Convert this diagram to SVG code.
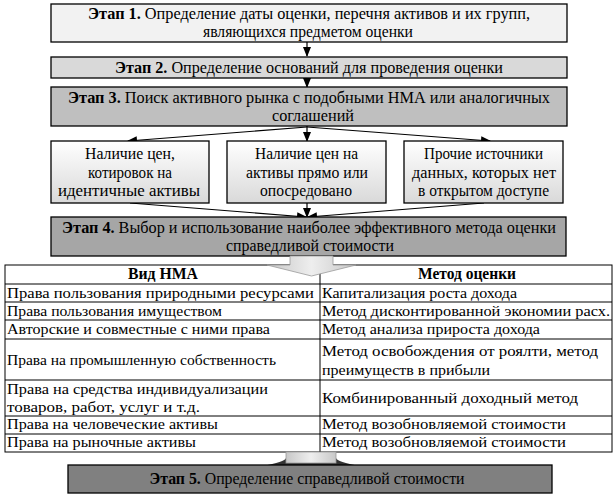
<svg xmlns="http://www.w3.org/2000/svg" width="615" height="497" viewBox="0 0 615 497" font-family="'Liberation Serif','DejaVu Serif','Noto Serif',serif">
<defs>
<linearGradient id="subg" x1="0" y1="0" x2="0" y2="1"><stop offset="0" stop-color="#ffffff"/><stop offset="1" stop-color="#d9d9d9"/></linearGradient>
<linearGradient id="arrg" x1="0" y1="0" x2="1" y2="0"><stop offset="0" stop-color="#c8c8c8"/><stop offset="0.5" stop-color="#eeeeee"/><stop offset="1" stop-color="#c8c8c8"/></linearGradient>
<marker id="ah" markerWidth="10" markerHeight="8" refX="9" refY="4" orient="auto" markerUnits="userSpaceOnUse"><path d="M0,0 L10,4 L0,8 Z" fill="#000"/></marker>
</defs>
<style>
text{font-family:'Liberation Serif','DejaVu Serif','Noto Serif',serif;font-size:16px;fill:#000}
.c{text-anchor:middle}
.b{font-weight:bold}
.box{stroke:#000;stroke-width:1.3}
.ln{stroke:#000;stroke-width:1.2;fill:none}
.tb{stroke:#000;stroke-width:1;fill:none}
.t{font-size:15.5px}
</style>

<g id="connectors">
<line class="ln" x1="307" y1="42" x2="307" y2="56" marker-end="url(#ah)"/>
<line class="ln" x1="307" y1="72" x2="307" y2="87" marker-end="url(#ah)"/>
<line class="ln" x1="307" y1="126" x2="307" y2="141" marker-end="url(#ah)"/>
<line class="ln" x1="307" y1="127" x2="128" y2="141" marker-end="url(#ah)"/>
<line class="ln" x1="307" y1="127" x2="490" y2="141" marker-end="url(#ah)"/>
<line class="ln" x1="307" y1="203" x2="307" y2="217" marker-end="url(#ah)"/>
<line class="ln" x1="130" y1="203" x2="306" y2="217" marker-end="url(#ah)"/>
<line class="ln" x1="484" y1="203" x2="308" y2="217" marker-end="url(#ah)"/>
</g>

<g id="stage1">
<rect class="box" x="51" y="4" width="516" height="38" fill="#f2f2f2"/>
<text class="c" x="309" y="19" textLength="442" lengthAdjust="spacingAndGlyphs"><tspan class="b">Этап 1.</tspan> Определение даты оценки, перечня активов и их групп,</text>
<text class="c" x="308" y="37" textLength="210" lengthAdjust="spacingAndGlyphs">являющихся предметом оценки</text>
</g>

<g id="stage2">
<rect class="box" x="51" y="57" width="516" height="21" fill="#d9d9d9"/>
<text class="c" x="309" y="73" textLength="388" lengthAdjust="spacingAndGlyphs"><tspan class="b">Этап 2.</tspan> Определение оснований для проведения оценки</text>
</g>

<g id="stage3">
<rect class="box" x="51" y="87" width="516" height="39" fill="#bfbfbf"/>
<text class="c" x="309" y="103" textLength="482" lengthAdjust="spacingAndGlyphs"><tspan class="b">Этап 3.</tspan> Поиск активного рынка с подобными НМА или аналогичных</text>
<text class="c" x="313" y="121" textLength="82" lengthAdjust="spacingAndGlyphs">соглашений</text>
</g>

<g id="src1">
<rect class="box" x="51" y="141" width="158" height="62" fill="url(#subg)"/>
<text class="c" x="130" y="159" textLength="90" lengthAdjust="spacingAndGlyphs">Наличие цен,</text>
<text class="c" x="130" y="177.5" textLength="84" lengthAdjust="spacingAndGlyphs">котировок на</text>
<text class="c" x="129" y="196" textLength="142" lengthAdjust="spacingAndGlyphs">идентичные активы</text>
</g>

<g id="src2">
<rect class="box" x="227" y="141" width="159" height="62" fill="url(#subg)"/>
<text class="c" x="306.5" y="159" textLength="103" lengthAdjust="spacingAndGlyphs">Наличие цен на</text>
<text class="c" x="307" y="177.5" textLength="122" lengthAdjust="spacingAndGlyphs">активы прямо или</text>
<text class="c" x="306" y="196" textLength="92" lengthAdjust="spacingAndGlyphs">опосредовано</text>
</g>

<g id="src3">
<rect class="box" x="404" y="141" width="159" height="62" fill="url(#subg)"/>
<text class="c" x="483.5" y="159" textLength="119" lengthAdjust="spacingAndGlyphs">Прочие источники</text>
<text class="c" x="484" y="177.5" textLength="144" lengthAdjust="spacingAndGlyphs">данных, которых нет</text>
<text class="c" x="483.5" y="196" textLength="131" lengthAdjust="spacingAndGlyphs">в открытом доступе</text>
</g>

<g id="stage4">
<rect class="box" x="51" y="217" width="515" height="39" fill="#a6a6a6"/>
<text class="c" x="309" y="233" textLength="494" lengthAdjust="spacingAndGlyphs"><tspan class="b">Этап 4.</tspan> Выбор и использование наиболее эффективного метода оценки</text>
<text class="c" x="310" y="251" textLength="168" lengthAdjust="spacingAndGlyphs">справедливой стоимости</text>
</g>

<g id="table">
<rect class="tb" x="5" y="265" width="607" height="187" fill="#fff"/>
<line class="tb" x1="320" y1="265" x2="320" y2="452"/>
<line class="tb" x1="5" y1="284" x2="612" y2="284"/>
<line class="tb" x1="5" y1="302" x2="612" y2="302"/>
<line class="tb" x1="5" y1="320" x2="612" y2="320"/>
<line class="tb" x1="5" y1="339" x2="612" y2="339"/>
<line class="tb" x1="5" y1="380" x2="612" y2="380"/>
<line class="tb" x1="5" y1="416" x2="612" y2="416"/>
<line class="tb" x1="5" y1="434" x2="612" y2="434"/>
<text class="c b" x="163" y="279" textLength="70" lengthAdjust="spacingAndGlyphs">Вид НМА</text>
<text class="c b" x="467" y="279" textLength="98" lengthAdjust="spacingAndGlyphs">Метод оценки</text>
<text class="t" x="7" y="298" textLength="307" lengthAdjust="spacingAndGlyphs">Права пользования природными ресурсами</text>
<text class="t" x="322" y="298" textLength="195" lengthAdjust="spacingAndGlyphs">Капитализация роста дохода</text>
<text class="t" x="7" y="316" textLength="215" lengthAdjust="spacingAndGlyphs">Права пользования имуществом</text>
<text class="t" x="322" y="316" textLength="288" lengthAdjust="spacingAndGlyphs">Метод дисконтированной экономии расх.</text>
<text class="t" x="7" y="334" textLength="263" lengthAdjust="spacingAndGlyphs">Авторские и совместные с ними права</text>
<text class="t" x="322" y="334" textLength="218" lengthAdjust="spacingAndGlyphs">Метод анализа прироста дохода</text>
<text class="t" x="7" y="365" textLength="269" lengthAdjust="spacingAndGlyphs">Права на промышленную собственность</text>
<text class="t" x="322" y="356" textLength="276" lengthAdjust="spacingAndGlyphs">Метод освобождения от роялти, метод</text>
<text class="t" x="322" y="375" textLength="168" lengthAdjust="spacingAndGlyphs">преимуществ в прибыли</text>
<text class="t" x="7" y="394" textLength="261" lengthAdjust="spacingAndGlyphs">Права на средства индивидуализации</text>
<text class="t" x="7" y="412" textLength="193" lengthAdjust="spacingAndGlyphs">товаров, работ, услуг и т.д.</text>
<text class="t" x="322" y="403" textLength="256" lengthAdjust="spacingAndGlyphs">Комбинированный доходный метод</text>
<text class="t" x="7" y="429" textLength="211" lengthAdjust="spacingAndGlyphs">Права на человеческие активы</text>
<text class="t" x="322" y="429" textLength="244" lengthAdjust="spacingAndGlyphs">Метод возобновляемой стоимости</text>
<text class="t" x="7" y="447" textLength="189" lengthAdjust="spacingAndGlyphs">Права на рыночные активы</text>
<text class="t" x="322" y="447" textLength="244" lengthAdjust="spacingAndGlyphs">Метод возобновляемой стоимости</text>
</g>

<g id="arrow4">
<path d="M290,256 L333,256 L333,265 L356,265 L311.5,276 L267,265 L290,265 Z" fill="url(#arrg)" stroke="#9a9a9a" stroke-width="0.8"/>
</g>

<g id="arrow5">
<path d="M262,466 Q285,462 286,458 L336,458 Q337,462 360,466 Z" fill="#333"/>
<rect x="286" y="452" width="50" height="11" fill="url(#arrg)" stroke="#9a9a9a" stroke-width="0.8"/>
</g>

<g id="stage5">
<rect class="box" x="68" y="465" width="484" height="28" fill="#808080"/>
<text class="c" x="307" y="484" textLength="315" lengthAdjust="spacingAndGlyphs"><tspan class="b">Этап 5.</tspan> Определение справедливой стоимости</text>
</g>
</svg>
